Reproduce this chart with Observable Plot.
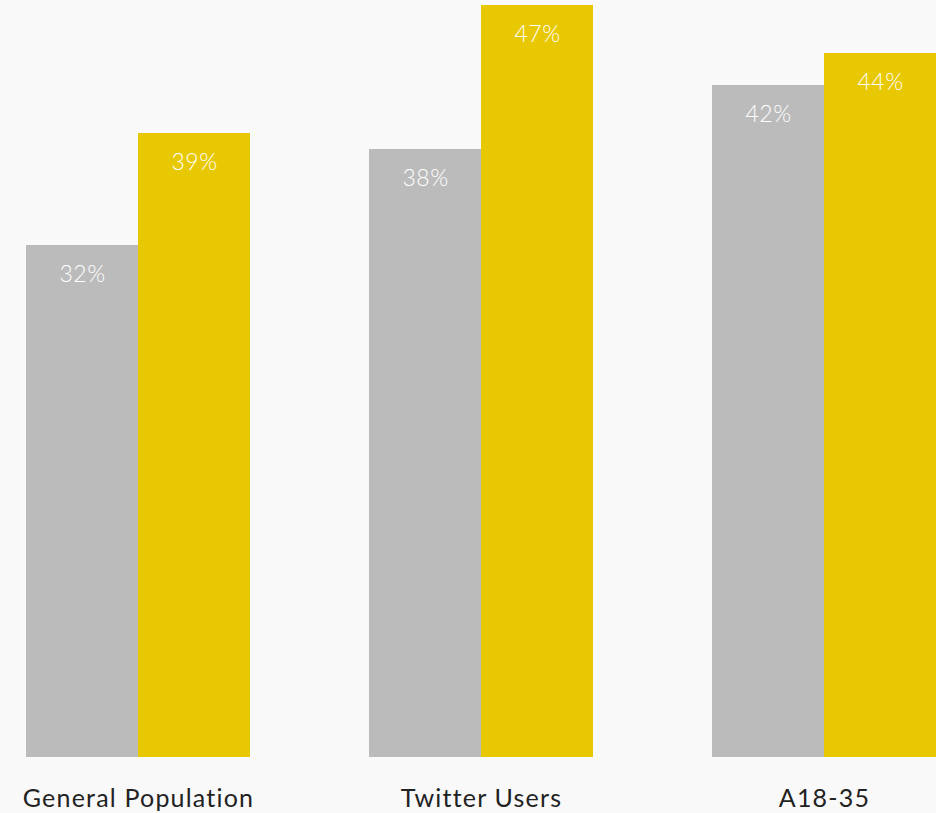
<!DOCTYPE html>
<html>
<head>
<meta charset="utf-8">
<script src="https://cdn.jsdelivr.net/npm/d3@7"></script>
<script src="https://cdn.jsdelivr.net/npm/@observablehq/plot@0.6"></script>
<style>
  html, body { margin: 0; padding: 0; background: #f9f9f9; }
  g[aria-label="fx-axis tick label"] text { letter-spacing: 1.2px; }
  g[aria-label="text"] text { letter-spacing: 0.5px; }
</style>
</head>
<body>
<div id="chart"></div>
<script>
const groups = ["General Population", "Twitter Users", "A18-35"];
const seriesNames = ["Series 1", "Series 2"];
const series1 = [32, 38, 42];
const series2 = [39, 47, 44];
const seriesColors = ["#bbbbbb", "#e8c802"];

const data = [];
groups.forEach((g, i) => {
  data.push({group: g, series: seriesNames[0], value: series1[i]});
  data.push({group: g, series: seriesNames[1], value: series2[i]});
});

const chart = Plot.plot({
  width: 936,
  height: 813,
  marginTop: 5,
  marginBottom: 56,
  marginLeft: 25,
  marginRight: -1,
  style: {background: "#f9f9f9", fontFamily: "Lato, 'Open Sans', sans-serif"},
  fx: {domain: groups, paddingInner: 0.346, paddingOuter: 0, label: null, axis: null},
  x: {domain: seriesNames, axis: null, padding: 0},
  y: {domain: [0, 47], axis: null},
  color: {domain: seriesNames, range: seriesColors},
  marks: [
    Plot.barY(data, {fx: "group", x: "series", y: "value", fill: "series", inset: 0}),
    Plot.text(data, {
      fx: "group", x: "series", y: "value",
      text: d => d.value + "%",
      lineAnchor: "bottom", dy: 36,
      fill: "white", fontSize: 23, fontWeight: 300
    }),
    Plot.axisFx({anchor: "bottom", tickSize: 0, tickPadding: 32, fontSize: 25, label: null, fill: "#222"})
  ]
});
document.getElementById("chart").appendChild(chart);
</script>
</body>
</html>
